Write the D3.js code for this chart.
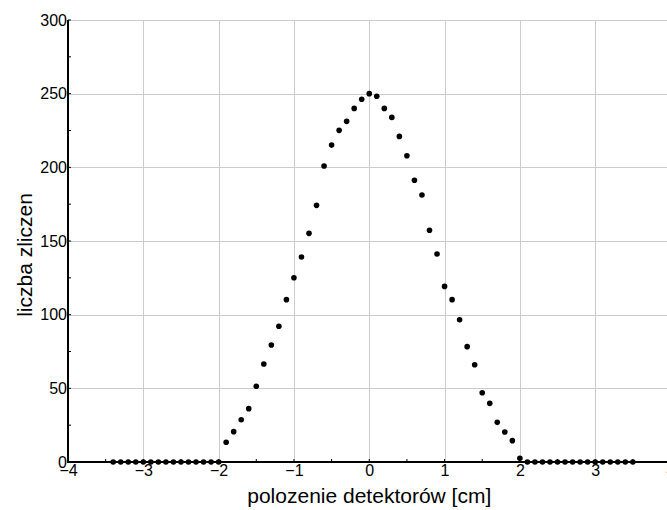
<!DOCTYPE html>
<html>
<head>
<meta charset="utf-8">
<script src="https://cdn.jsdelivr.net/npm/d3@7"></script>
<style>
  html, body { margin: 0; padding: 0; background: #fff; }
  svg { display: block; font-family: Arial, "Liberation Sans", sans-serif; }
</style>
</head>
<body>
<script>
// Detector positions [cm]
const positions = [
  -3.4, -3.3, -3.2, -3.1, -3.0, -2.9, -2.8, -2.7, -2.6, -2.5, -2.4, -2.3, -2.2, -2.1, -2.0,
  -1.9, -1.8, -1.7, -1.6, -1.5, -1.4, -1.3, -1.2, -1.1, -1.0,
  -0.9, -0.8, -0.7, -0.6, -0.5, -0.4, -0.3, -0.2, -0.1, 0.0,
  0.1, 0.2, 0.3, 0.4, 0.5, 0.6, 0.7, 0.8, 0.9, 1.0,
  1.1, 1.2, 1.3, 1.4, 1.5, 1.6, 1.7, 1.8, 1.9, 2.0,
  2.1, 2.2, 2.3, 2.4, 2.5, 2.6, 2.7, 2.8, 2.9, 3.0, 3.1, 3.2, 3.3, 3.4, 3.5
];
// Recorded counts at each position
const counts = [
  0, 0, 0, 0, 0, 0, 0, 0, 0, 0, 0, 0, 0, 0, 0,
  13.4, 20.6, 28.7, 36.2, 51.4, 66.5, 79.4, 92.1, 110.2, 125.1,
  139.1, 155.2, 174.2, 200.9, 215.1, 225.1, 231.2, 240.0, 246.2, 250.0,
  248.2, 240.0, 233.9, 221.0, 207.9, 191.2, 181.2, 157.3, 141.2, 119.2,
  110.2, 96.6, 78.3, 66.0, 47.0, 39.8, 26.9, 20.4, 14.5, 2.5,
  0, 0, 0, 0, 0, 0, 0, 0, 0, 0, 0, 0, 0, 0, 0
];
const xTicks = [-4, -3, -2, -1, 0, 1, 2, 3, 4];
const xMinorTicks = [-3.5, -2.5, -1.5, -0.5, 0.5, 1.5, 2.5, 3.5];
const yTicks = [0, 50, 100, 150, 200, 250, 300];
const yMinorTicks = [25, 75, 125, 175, 225, 275];
const xTitle = "polozenie detektorów [cm]";
const yTitle = "liczba zliczen";

const W = 667, H = 510;
const plotLeft = 68, plotRight = 670.5, plotTop = 20, plotBottom = 462;
const FONT = "Arial, 'Liberation Sans', sans-serif";

const svg = d3.select("body").append("svg")
  .attr("width", W).attr("height", H);

const x = d3.scaleLinear().domain([-4, 4]).range([plotLeft, plotRight]);
const y = d3.scaleLinear().domain([0, 300]).range([plotBottom, plotTop]);

// grid
const grid = svg.append("g").attr("stroke", "#cccccc").attr("stroke-width", 1);
grid.selectAll("line.gx").data(xTicks.slice(1)).join("line")
  .attr("x1", d => Math.round(x(d)) + 0.5).attr("x2", d => Math.round(x(d)) + 0.5)
  .attr("y1", plotTop).attr("y2", plotBottom);
grid.selectAll("line.gy").data(yTicks.slice(1)).join("line")
  .attr("x1", plotLeft).attr("x2", W)
  .attr("y1", d => Math.round(y(d)) + 0.5).attr("y2", d => Math.round(y(d)) + 0.5);

// axes
const xAxis = svg.append("g").attr("transform", `translate(0,${plotBottom})`)
  .call(d3.axisBottom(x).tickValues(xTicks).tickSize(0).tickPadding(3).tickFormat(d3.format("d")));
xAxis.select(".domain").remove();
xAxis.selectAll("text").attr("font-size", 16).attr("fill", "#000").attr("font-family", FONT);

const yAxis = svg.append("g").attr("transform", `translate(${plotLeft},0)`)
  .call(d3.axisLeft(y).tickValues(yTicks).tickSize(0).tickPadding(1).tickFormat(d3.format("d")));
yAxis.select(".domain").remove();
yAxis.selectAll("text").attr("font-size", 16).attr("fill", "#000").attr("font-family", FONT);

// axis lines
svg.append("line").attr("x1", plotLeft).attr("x2", W).attr("y1", plotBottom).attr("y2", plotBottom)
  .attr("stroke", "#000").attr("stroke-width", 2);
svg.append("line").attr("x1", plotLeft).attr("x2", plotLeft).attr("y1", plotTop).attr("y2", plotBottom + 1)
  .attr("stroke", "#000").attr("stroke-width", 2);

// small tick marks
svg.append("g").selectAll("line").data(xTicks.concat(xMinorTicks)).join("line")
  .attr("x1", d => x(d)).attr("x2", d => x(d))
  .attr("y1", plotBottom - 3).attr("y2", plotBottom)
  .attr("stroke", "#000").attr("stroke-width", 1);
svg.append("g").selectAll("line").data(yTicks.concat(yMinorTicks)).join("line")
  .attr("x1", plotLeft).attr("x2", plotLeft + 3)
  .attr("y1", d => y(d)).attr("y2", d => y(d))
  .attr("stroke", "#000").attr("stroke-width", 1);

// data points
svg.append("g").selectAll("circle").data(positions).join("circle")
  .attr("cx", d => x(d))
  .attr("cy", (d, i) => y(counts[i]))
  .attr("r", 2.8)
  .attr("fill", "#000");

// titles
svg.append("text").attr("x", x(0)).attr("y", 503)
  .attr("text-anchor", "middle").attr("font-size", 21).attr("fill", "#000")
  .attr("font-family", FONT)
  .text(xTitle);
svg.append("text").attr("transform", `translate(32,${(plotTop + plotBottom) / 2 + 14}) rotate(-90)`)
  .attr("text-anchor", "middle").attr("font-size", 21).attr("fill", "#000")
  .attr("font-family", FONT)
  .text(yTitle);
</script>
</body>
</html>
